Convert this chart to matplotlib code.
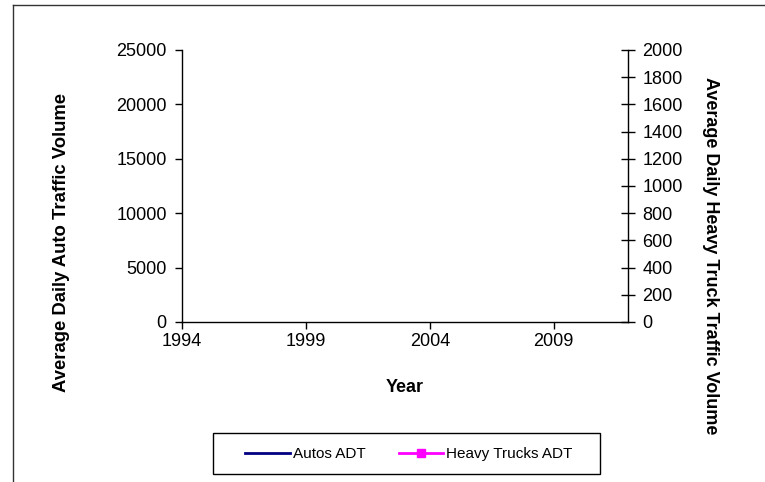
import matplotlib
matplotlib.use("Agg")
import matplotlib.pyplot as plt
from matplotlib.lines import Line2D
from matplotlib.patches import Rectangle

plt.rcParams['font.family'] = ['Liberation Sans', 'DejaVu Sans']

# Traffic counts (no observations recorded yet)
years = []
autos_adt = []
trucks_adt = []

x_ticks = [1994, 1999, 2004, 2009]
auto_ticks = [0, 5000, 10000, 15000, 20000, 25000]
truck_ticks = list(range(0, 2001, 200))

W, H = 765, 482
fig = plt.figure(figsize=(W / 100, H / 100), dpi=100)

left, right, top, bottom = 182, 628, 50, 322
ax = fig.add_axes([left / W, 1 - bottom / H, (right - left) / W, (bottom - top) / H])
ax2 = ax.twinx()

ax.plot(years, autos_adt, color='#000080', lw=2, label='Autos ADT')
ax2.plot(years, trucks_adt, color='#FF00FF', lw=2, marker='s', ms=6, label='Heavy Trucks ADT')

ax.set_xlim(1994, 2012)
ax.set_ylim(0, 25000)
ax2.set_ylim(0, 2000)
ax.set_xticks(x_ticks)
ax.set_yticks(auto_ticks)
ax2.set_yticks(truck_ticks)

for a in (ax, ax2):
    a.spines['top'].set_visible(False)
    for s in a.spines.values():
        s.set_linewidth(1.0)
        s.set_color('black')
ax.spines['right'].set_visible(False)
ax2.spines['left'].set_visible(False)
ax2.spines['bottom'].set_visible(False)

ax.tick_params(axis='both', labelsize=13, length=5, width=1, direction='out')
ax.tick_params(axis='y', pad=6)
ax.tick_params(axis='x', pad=3)
ax2.tick_params(axis='y', labelsize=13, length=10, width=1, direction='inout', pad=5.5)

# Axis titles
fig.text(62 / W, 1 - 242 / H, 'Average Daily Auto Traffic Volume', rotation=90,
         ha='center', va='center', fontsize=13.3, fontweight='bold')
fig.text(710 / W, 1 - 256 / H, 'Average Daily Heavy Truck Traffic Volume', rotation=-90,
         ha='center', va='center', fontsize=13, fontweight='bold')
fig.text((left + right) / 2 / W, 1 - 387 / H, 'Year', ha='center', va='center',
         fontsize=13, fontweight='bold')

# Legend with a plain rectangular box
handles = [Line2D([], [], color='#000080', lw=2),
           Line2D([], [], color='#FF00FF', lw=2, marker='s', ms=6)]
fig.legend(handles, ['Autos ADT', 'Heavy Trucks ADT'], loc='center',
           bbox_to_anchor=(409 / W, 1 - 454 / H), ncol=2, fontsize=11,
           frameon=False, handlelength=2.9, handletextpad=0.2,
           columnspacing=2.2, borderpad=0, borderaxespad=0)
fig.add_artist(Rectangle((213 / W, 1 - 474 / H), (600 - 213) / W, (474 - 433) / H,
                         transform=fig.transFigure, fill=False, edgecolor='black', lw=1))

# Outer chart frame (top and left edges)
fig.add_artist(Line2D([13 / W, 13 / W], [0, 1 - 5 / H], color='#333333', lw=1,
                      transform=fig.transFigure))
fig.add_artist(Line2D([13 / W, 1], [1 - 5 / H, 1 - 5 / H], color='#333333', lw=1,
                      transform=fig.transFigure))

fig.savefig('out.png', dpi=100)
